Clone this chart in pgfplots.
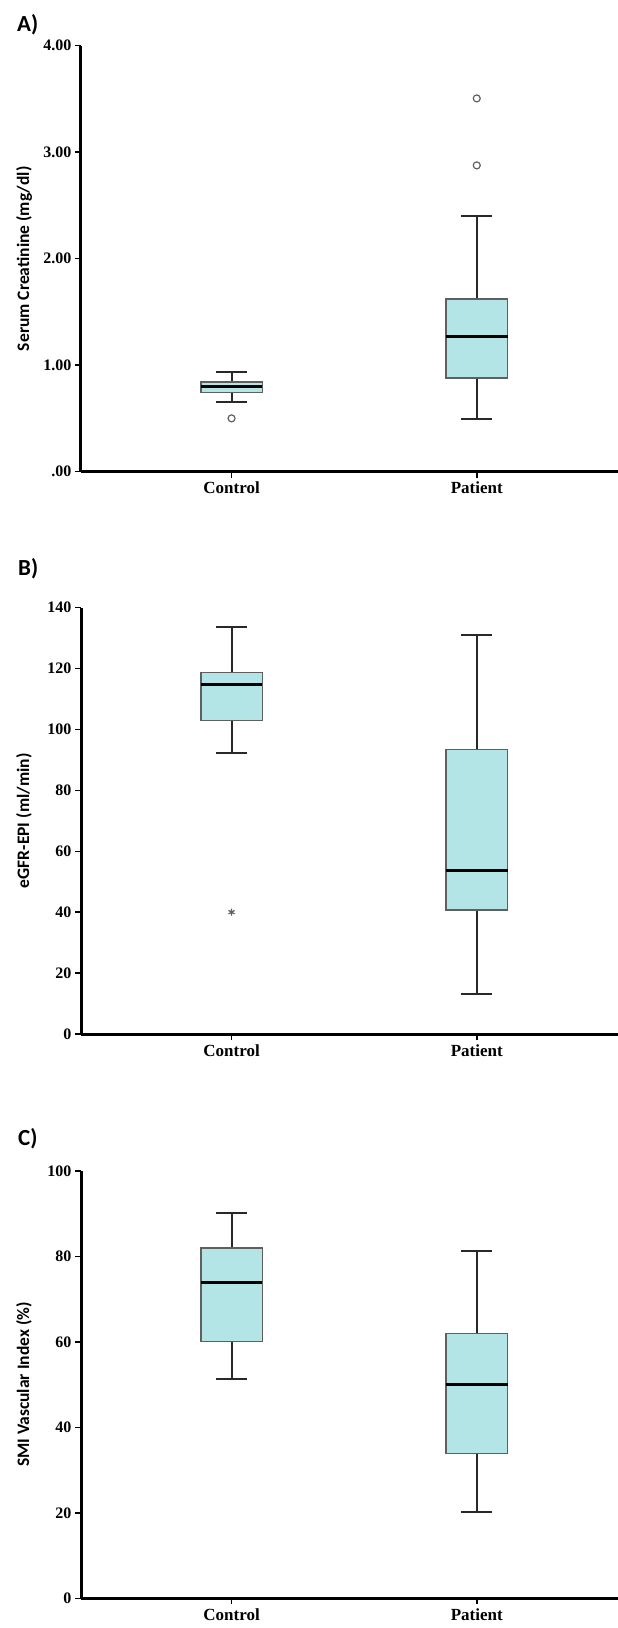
\documentclass[border=0pt]{standalone}
\usepackage{fontspec}
\setmainfont{Liberation Serif}
\newfontfamily\calib{Carlito}
\usepackage{pgfplots}
\pgfplotsset{compat=1.18}

\definecolor{boxfill}{RGB}{180,229,230}
\definecolor{boxedge}{RGB}{95,95,95}
\definecolor{whisk}{RGB}{40,40,40}

% boxes are 0.251 wide, whisker caps 0.125 wide, at x = 1 (Control) and 2 (Patient)
\pgfplotsset{
  spssbox/.style={
    width=537pt, scale only axis,
    xmin=0.386, xmax=2.576,
    axis x line*=bottom, axis y line*=left,
    axis line style={line width=3pt, black},
    xtick={1,2}, xticklabels={Control,Patient},
    tick align=outside, major tick length=6pt,
    tick style={line width=1.5pt, black},
    x tick label style={font=\fontsize{17}{20}\selectfont\bfseries, yshift=-1pt},
    y tick label style={font=\fontsize{16}{19}\selectfont\bfseries},
    every axis y label/.style={at={(axis description cs:-0.106,0.5)}, rotate=90,
      anchor=center, font=\calib\bfseries\fontsize{17.5}{21}\selectfont},
    clip=false, unbounded coords=jump,
  },
  boxst/.style={draw=boxedge, line width=1.5pt, fill=boxfill},
  whst/.style={draw=whisk, line width=2pt},
  medst/.style={draw=black, line width=3pt},
  outl/.style={only marks, mark=o, mark size=3.5pt, mark options={draw=boxedge, line width=1.2pt}},
  extr/.style={only marks, mark=asterisk, mark size=3.5pt, mark options={draw=boxedge, line width=1.2pt}},
}

\begin{document}
\begin{tikzpicture}
\useasboundingbox (0pt,0pt) rectangle (618pt,-1628pt);

% A) Serum creatinine
\begin{axis}[spssbox, at={(81pt,-471.6pt)}, anchor=south west, height=425.9pt,
  ymin=0, ymax=4, ytick={0,1,2,3,4}, yticklabels={.00,1.00,2.00,3.00,4.00},
  ylabel={Serum Creatinine (mg/dl)}]
% Control: 0.654 / 0.741 / 0.80 / 0.84 / 0.94
\addplot[whst] coordinates {(1,0.84) (1,0.94) (1,nan) (0.9375,0.94) (1.0625,0.94) (1,nan)
  (1,0.741) (1,0.654) (1,nan) (0.9375,0.654) (1.0625,0.654)};
\addplot[boxst] coordinates {(0.8745,0.741) (1.1255,0.741) (1.1255,0.84) (0.8745,0.84)} -- cycle;
\addplot[medst] coordinates {(0.8745,0.80) (1.1255,0.80)};
\addplot[outl] coordinates {(1,0.50)};
% Patient: 0.49 / 0.88 / 1.267 / 1.621 / 2.397
\addplot[whst] coordinates {(2,1.621) (2,2.397) (2,nan) (1.9375,2.397) (2.0625,2.397) (2,nan)
  (2,0.88) (2,0.49) (2,nan) (1.9375,0.49) (2.0625,0.49)};
\addplot[boxst] coordinates {(1.8745,0.88) (2.1255,0.88) (2.1255,1.621) (1.8745,1.621)} -- cycle;
\addplot[medst] coordinates {(1.8745,1.267) (2.1255,1.267)};
\addplot[outl] coordinates {(2,2.876) (2,3.505)};
\end{axis}

% B) eGFR
\begin{axis}[spssbox, at={(81pt,-1034pt)}, anchor=south west, height=426.4pt,
  ymin=0, ymax=140, ytick={0,20,40,60,80,100,120,140},
  yticklabels={0,20,40,60,80,100,120,140},
  ylabel={eGFR-EPI (ml/min)}]
% Control: 92.2 / 103.0 / 114.9 / 118.7 / 133.6
\addplot[whst] coordinates {(1,118.7) (1,133.6) (1,nan) (0.9375,133.6) (1.0625,133.6) (1,nan)
  (1,103.0) (1,92.2) (1,nan) (0.9375,92.2) (1.0625,92.2)};
\addplot[boxst] coordinates {(0.8745,103.0) (1.1255,103.0) (1.1255,118.7) (0.8745,118.7)} -- cycle;
\addplot[medst] coordinates {(0.8745,114.9) (1.1255,114.9)};
\addplot[extr] coordinates {(1,40)};
% Patient: 13.3 / 40.7 / 53.7 / 93.4 / 131.0
\addplot[whst] coordinates {(2,93.4) (2,131.0) (2,nan) (1.9375,131.0) (2.0625,131.0) (2,nan)
  (2,40.7) (2,13.3) (2,nan) (1.9375,13.3) (2.0625,13.3)};
\addplot[boxst] coordinates {(1.8745,40.7) (2.1255,40.7) (2.1255,93.4) (1.8745,93.4)} -- cycle;
\addplot[medst] coordinates {(1.8745,53.7) (2.1255,53.7)};
\end{axis}

% C) SMI vascular index
\begin{axis}[spssbox, at={(81pt,-1598.3pt)}, anchor=south west, height=427.3pt,
  ymin=0, ymax=100, ytick={0,20,40,60,80,100},
  yticklabels={0,20,40,60,80,100},
  ylabel={SMI Vascular Index (\%)}]
% Control: 51.25 / 60.05 / 74.0 / 82.0 / 90.1
\addplot[whst] coordinates {(1,82.0) (1,90.1) (1,nan) (0.9375,90.1) (1.0625,90.1) (1,nan)
  (1,60.05) (1,51.25) (1,nan) (0.9375,51.25) (1.0625,51.25)};
\addplot[boxst] coordinates {(0.8745,60.05) (1.1255,60.05) (1.1255,82.0) (0.8745,82.0)} -- cycle;
\addplot[medst] coordinates {(0.8745,74.0) (1.1255,74.0)};
% Patient: 20.1 / 33.9 / 50.0 / 62.0 / 81.3
\addplot[whst] coordinates {(2,62.0) (2,81.3) (2,nan) (1.9375,81.3) (2.0625,81.3) (2,nan)
  (2,33.9) (2,20.1) (2,nan) (1.9375,20.1) (2.0625,20.1)};
\addplot[boxst] coordinates {(1.8745,33.9) (2.1255,33.9) (2.1255,62.0) (1.8745,62.0)} -- cycle;
\addplot[medst] coordinates {(1.8745,50.0) (2.1255,50.0)};
\end{axis}

\node[anchor=base west, inner sep=0pt, font=\calib\bfseries\fontsize{23}{26}\selectfont] at (17pt,-31pt) {A)};
\node[anchor=base west, inner sep=0pt, font=\calib\bfseries\fontsize{23}{26}\selectfont] at (18pt,-575pt) {B)};
\node[anchor=base west, inner sep=0pt, font=\calib\bfseries\fontsize{23}{26}\selectfont] at (18pt,-1145pt) {C)};
\end{tikzpicture}
\end{document}
